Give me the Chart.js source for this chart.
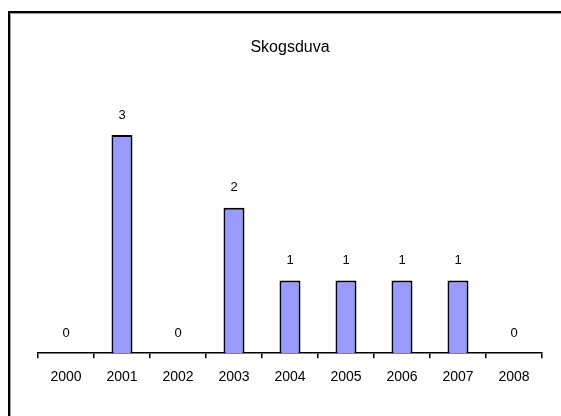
<!DOCTYPE html>
<html>
<head>
<meta charset="utf-8">
<script src="https://cdn.jsdelivr.net/npm/chart.js@4"></script>
<style>
  html, body { margin: 0; padding: 0; background: #fff; }
  #wrap { position: relative; width: 561px; height: 416px; }
  #frame {
    position: absolute; left: 8px; top: 11px; right: 0; bottom: 0;
    border-left: 2px solid #000; border-top: 2px solid #000;
    box-shadow: inset 1px 1px 0 #a0a0a0;
    pointer-events: none;
  }
</style>
</head>
<body>
<div id="wrap">
  <canvas id="chart" width="561" height="416"></canvas>
  <div id="frame"></div>
</div>
<script>
  var years = ["2000", "2001", "2002", "2003", "2004", "2005", "2006", "2007", "2008"];
  var counts = [0, 3, 0, 2, 1, 1, 1, 1, 0];
  var chartTitle = "Skogsduva";

  // value labels above each bar (zero bars get their label too)
  var valueLabels = {
    id: "valueLabels",
    afterDatasetsDraw: function (chart) {
      var ctx = chart.ctx;
      var meta = chart.getDatasetMeta(0);
      ctx.save();
      ctx.font = "13px 'Liberation Sans', Arial, sans-serif";
      ctx.fillStyle = "#000";
      ctx.textAlign = "center";
      ctx.textBaseline = "middle";
      meta.data.forEach(function (bar, i) {
        ctx.fillText(String(counts[i]), bar.x, bar.y - 20);
      });
      ctx.restore();
    }
  };

  new Chart(document.getElementById("chart"), {
    type: "bar",
    data: {
      labels: years,
      datasets: [{
        data: counts,
        backgroundColor: "#9999ff",
        borderColor: "#000",
        borderWidth: 2,
        barPercentage: 0.375,
        categoryPercentage: 1
      }]
    },
    options: {
      responsive: false,
      animation: false,
      layout: { padding: { left: 38, right: 19, top: 0, bottom: 19 } },
      plugins: {
        legend: { display: false },
        tooltip: { enabled: false },
        title: {
          display: true,
          text: chartTitle,
          color: "#000",
          font: { family: "'Liberation Sans', Arial, sans-serif", size: 16, weight: "normal" },
          padding: { top: 38, bottom: 5 }
        }
      },
      scales: {
        x: {
          offset: true,
          grid: {
            offset: true,
            drawOnChartArea: false,
            drawTicks: true,
            tickLength: 5,
            color: "#000",
            lineWidth: 1.5
          },
          border: { color: "#000", width: 1.5 },
          ticks: {
            color: "#000",
            padding: 11,
            font: { family: "'Liberation Sans', Arial, sans-serif", size: 14 }
          }
        },
        y: {
          display: false,
          min: 0,
          max: 4
        }
      }
    },
    plugins: [valueLabels]
  });
</script>
</body>
</html>
